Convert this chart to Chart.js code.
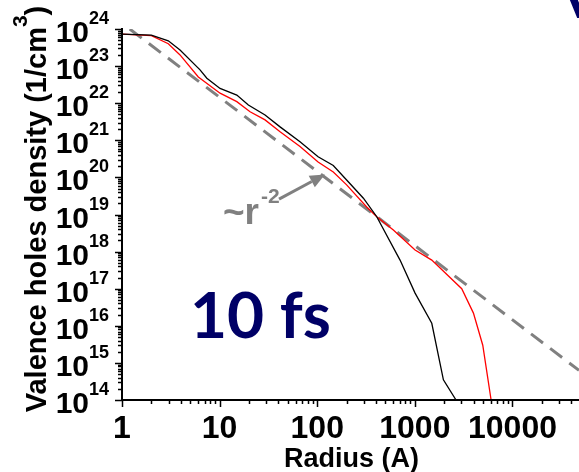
<!DOCTYPE html>
<html>
<head>
<meta charset="utf-8">
<title>Valence holes density vs radius</title>
<script src="https://cdn.jsdelivr.net/npm/chart.js@4/dist/chart.umd.min.js"></script>
<style>
  html, body { margin: 0; padding: 0; background: #ffffff; }
  #wrap { width: 579px; height: 472px; }
</style>
</head>
<body>
<div id="wrap"><canvas id="chart" width="579" height="472"></canvas></div>
<script>
// Radius in Å, density in 1/cm³
const blackRadius  = [1, 2.0, 2.98, 3.93, 6.3, 7.4, 10.1, 15, 19.7, 29.2, 41.6, 66.6, 102, 146, 200, 297, 407, 705, 1005, 1490, 1960, 2640];
const blackDensity = [7.3e23, 6.8e23, 4.8e23, 2.7e23, 7.9e22, 4.7e22, 2.5e22, 1.66e22, 8.9e21, 4.8e21, 2.3e21, 9.1e20, 3.6e20, 2.1e20, 8.5e19, 2.75e19, 8.7e18, 5.9e17, 7.6e16, 1.17e16, 3.5e14, 1e14];

const redRadius  = [1, 2.0, 2.98, 3.93, 6.05, 10.1, 15, 20.5, 29.2, 41.6, 66.6, 102, 146, 200, 321, 407, 602, 1005, 1490, 3020, 3980, 4960, 6040];
const redDensity = [7.3e23, 6.6e23, 4.0e23, 2.0e23, 5.1e22, 1.86e22, 1.1e22, 5.9e21, 3.55e21, 1.7e21, 6.8e20, 2.6e20, 1.4e20, 6.3e19, 1.6e19, 8.7e18, 3.8e18, 1.1e18, 5.9e17, 1.0e17, 2.2e16, 3.0e15, 1e14];

// ~r^-2 guide line
const guideRadius  = [1.2, 48000];
const guideDensity = [1.0e24, 6.3e14];

// Axis ticks
const xTickValues = [1, 10, 100, 1000, 10000];
const xTickLabels = ['1', '10', '100', '1000', '10000'];
const yTickExponents = [14, 15, 16, 17, 18, 19, 20, 21, 22, 23, 24];

const xTitle = 'Radius (A)';
const yTitleMain = 'Valence holes density (1/cm';
const yTitleSup = '3';
const yTitleEnd = ')';
const panelLabel = '10 fs';
const slopeLabel = '~r';
const slopeExp = '-2';

const pts = (xs, ys) => xs.map((x, i) => ({ x: x, y: ys[i] }));

const BOLD = 'bold %spx "Liberation Sans", Arial, sans-serif';
const font = (px) => BOLD.replace('%s', px);

const axesPlugin = {
  id: 'axesAndLabels',
  afterDatasetsDraw(chart) {
    const ctx = chart.ctx;
    const xs = chart.scales.x, ys = chart.scales.y;
    const area = chart.chartArea;
    ctx.save();

    // axis lines
    ctx.strokeStyle = '#000';
    ctx.lineWidth = 2;
    ctx.beginPath();
    ctx.moveTo(area.left, area.top - 1);
    ctx.lineTo(area.left, area.bottom);
    ctx.lineTo(chart.width, area.bottom);
    ctx.stroke();

    // y ticks (outside, left)
    ctx.lineWidth = 1.5;
    ctx.beginPath();
    yTickExponents.forEach((e) => {
      const y = Math.round(ys.getPixelForValue(Math.pow(10, e))) + 0.5;
      ctx.moveTo(area.left - 7, y); ctx.lineTo(area.left, y);
      if (e < yTickExponents[yTickExponents.length - 1]) {
        for (let m = 2; m <= 9; m++) {
          const ym = Math.round(ys.getPixelForValue(m * Math.pow(10, e))) + 0.5;
          ctx.moveTo(area.left - 4, ym); ctx.lineTo(area.left, ym);
        }
      }
    });
    // x ticks (outside, below)
    for (let k = 0; k <= 4; k++) {
      const base = Math.pow(10, k);
      const x = Math.round(xs.getPixelForValue(base)) + 0.5;
      ctx.moveTo(x, area.bottom); ctx.lineTo(x, area.bottom + 7);
      for (let m = 2; m <= 9; m++) {
        const v = m * base;
        if (v > xs.max) break;
        const xm = Math.round(xs.getPixelForValue(v)) + 0.5;
        ctx.moveTo(xm, area.bottom); ctx.lineTo(xm, area.bottom + 4);
      }
    }
    ctx.stroke();

    // y tick labels: 10 with exponent
    ctx.fillStyle = '#000';
    ctx.textBaseline = 'alphabetic';
    yTickExponents.forEach((e) => {
      const y = ys.getPixelForValue(Math.pow(10, e));
      ctx.font = font(30);
      ctx.textAlign = 'right';
      ctx.fillText('10', 89, y + 13);
      ctx.font = font(18);
      ctx.textAlign = 'left';
      ctx.fillText(String(e), 89, y - 5);
    });

    // x tick labels
    ctx.font = font(32);
    ctx.textAlign = 'center';
    xTickValues.forEach((v, i) => {
      ctx.fillText(xTickLabels[i], xs.getPixelForValue(v), 438);
    });

    // x title
    ctx.font = font(27);
    ctx.fillText(xTitle, (area.left + chart.width) / 2 + 1, 467);

    // y title (rotated, with superscript)
    ctx.save();
    ctx.translate(46, 209);
    ctx.rotate(-Math.PI / 2);
    ctx.textAlign = 'left';
    ctx.font = font(29);
    const w1 = ctx.measureText(yTitleMain).width;
    const w3 = ctx.measureText(yTitleEnd).width;
    ctx.font = font(21);
    const w2 = ctx.measureText(yTitleSup).width;
    let sx = -(w1 + w2 + w3) / 2;
    ctx.font = font(29);
    ctx.fillText(yTitleMain, sx, 0);
    sx += w1;
    ctx.font = font(21);
    ctx.fillText(yTitleSup, sx, -19);
    sx += w2;
    ctx.font = font(29);
    ctx.fillText(yTitleEnd, sx, 0);
    ctx.restore();

    // slope annotation and arrow
    ctx.fillStyle = '#808080';
    ctx.strokeStyle = '#808080';
    ctx.font = font(37);
    ctx.textAlign = 'left';
    ctx.fillText(slopeLabel, 223, 224);
    const wr = ctx.measureText(slopeLabel).width;
    ctx.font = font(21);
    ctx.fillText(slopeExp, 223 + wr + 2, 203);

    const tail = { x: xs.getPixelForValue(40.6), y: ys.getPixelForValue(2.6e19) };
    const tip = { x: xs.getPixelForValue(120), y: ys.getPixelForValue(1.2e20) };
    const ang = Math.atan2(tip.y - tail.y, tip.x - tail.x);
    const headLen = 15, headHalf = 6.5;
    const bx = tip.x - headLen * Math.cos(ang), by = tip.y - headLen * Math.sin(ang);
    ctx.lineWidth = 3;
    ctx.beginPath();
    ctx.moveTo(tail.x, tail.y);
    ctx.lineTo(bx, by);
    ctx.stroke();
    ctx.beginPath();
    ctx.moveTo(tip.x, tip.y);
    ctx.lineTo(bx + headHalf * Math.sin(ang), by - headHalf * Math.cos(ang));
    ctx.lineTo(bx - headHalf * Math.sin(ang), by + headHalf * Math.cos(ang));
    ctx.closePath();
    ctx.fill();

    // panel time label
    ctx.fillStyle = '#000066';
    ctx.font = 'bold 64px Lato, "Open Sans", sans-serif';
    ctx.textAlign = 'left';
    ctx.fillText(panelLabel, 190, 338);

    // edge of heading letter at top right
    ctx.font = 'bold 60px Lato, sans-serif';
    ctx.fillText('V', 560, 18);

    ctx.restore();
  }
};

new Chart(document.getElementById('chart'), {
  type: 'line',
  data: {
    datasets: [
      {
        label: 'black',
        data: pts(blackRadius, blackDensity),
        borderColor: '#000000',
        borderWidth: 1.3,
        pointRadius: 0,
        tension: 0,
        fill: false
      },
      {
        label: 'red',
        data: pts(redRadius, redDensity),
        borderColor: '#ff0000',
        borderWidth: 1.3,
        pointRadius: 0,
        tension: 0,
        fill: false
      },
      {
        label: '~r^-2',
        data: pts(guideRadius, guideDensity),
        borderColor: '#808080',
        borderWidth: 3,
        borderDash: [15, 9],
        pointRadius: 0,
        tension: 0,
        fill: false
      }
    ]
  },
  options: {
    responsive: false,
    animation: false,
    devicePixelRatio: 1,
    layout: { padding: { left: 122, top: 29, right: 0, bottom: 72 } },
    plugins: { legend: { display: false }, tooltip: { enabled: false } },
    scales: {
      x: { type: 'logarithmic', min: 1, max: 48000, display: false },
      y: { type: 'logarithmic', min: 1e14, max: 1e24, display: false }
    }
  },
  plugins: [axesPlugin]
});
</script>
</body>
</html>
